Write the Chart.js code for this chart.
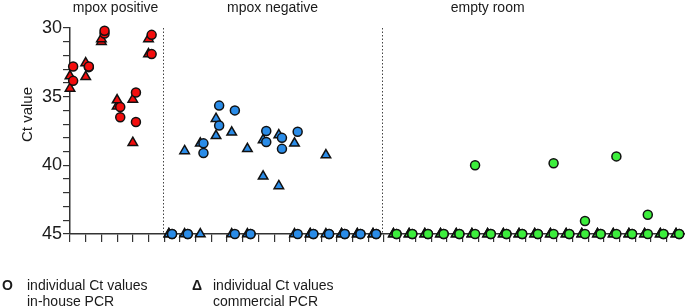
<!DOCTYPE html>
<html>
<head>
<meta charset="utf-8">
<script src="https://cdn.jsdelivr.net/npm/chart.js@4.4.1/dist/chart.umd.min.js"></script>
<style>
  body { margin: 0; background: #fff; }
  #wrap { position: relative; width: 685px; height: 308px; font-family: "Liberation Sans", Arial, sans-serif; color: #1a1a1a; }
  #myChart { display: block; }
  .key { position: absolute; top: 277px; font-size: 14px; line-height: 16px; white-space: nowrap; }
  .sym { position: absolute; top: 277px; font-size: 14px; line-height: 16px; font-weight: bold; }
</style>
</head>
<body>
<div id="wrap">
  <canvas id="myChart" width="685" height="308"></canvas>
  <span class="sym" style="left:2px">O</span>
  <div class="key" style="left:27px">individual Ct values<br>in-house PCR</div>
  <span class="sym" style="left:192px">Δ</span>
  <div class="key" style="left:213px">individual Ct values<br>commercial PCR</div>
</div>
<script>
const groups = ["mpox positive", "mpox negative", "empty room"];
const groupSizes = [6, 14, 19];
const groupColors = ["#f20d0d", "#2a8ce8", "#3cee3c"];

// two runs per sample, 45 = no signal
const inHouse1 = [
  32.8, 32.8, 30.2, 35.75, 34.7, 30.5,
  45, 45, 38.4, 35.65, 36.0, 45, 37.5, 38.0, 37.55, 45, 45, 45, 45, 45,
  45, 45, 45, 45, 45, 40.0, 45, 45, 45, 45, 39.85, 45, 44.05, 45, 39.35, 45, 43.6, 45, 45,
];
const inHouse2 = [
  33.85, 32.85, 30.4, 36.5, 36.85, 31.9,
  45, 45, 39.1, 37.1, 45, 45, 38.3, 38.8, 45, 45, 45, 45, 45, 45,
  45, 45, 45, 45, 45, 45, 45, 45, 45, 45, 45, 45, 45, 45, 45, 45, 45, 45, 45,
];
const commercial1 = [
  33.5, 32.55, 30.8, 35.25, 35.2, 30.8,
  45, 38.95, 38.4, 36.6, 37.6, 38.8, 38.15, 37.8, 38.4, 45, 39.25, 45, 45, 45,
  45, 45, 45, 45, 45, 45, 45, 45, 45, 45, 45, 45, 45, 45, 45, 45, 45, 45, 45,
];
const commercial2 = [
  34.4, 33.55, 31.0, 35.7, 38.35, 31.9,
  45, 45, 45, 37.85, 45, 45, 40.8, 41.5, 45, 45, 45, 45, 45, 45,
  45, 45, 45, 45, 45, 45, 45, 45, 45, 45, 45, 45, 45, 45, 45, 45, 45, 45, 45,
];
const yMin = 30;
const yMax = 45;

// layout helpers
const groupGap = 0.3;
const circleShift = 0.2;
const separators = [5.9, 19.9];
const titleAt = [2.9, 12.9, 26.6];

const xPos = [];
const colors = [];
groupSizes.forEach((n, g) => {
  for (let k = 0; k < n; k++) {
    xPos.push(xPos.length + g * groupGap);
    colors.push(groupColors[g]);
  }
});

const dots = (label, values, shape, shift, radius) => ({
  label,
  data: values.map((v, i) => ({ x: xPos[i] + shift, y: v })),
  pointStyle: shape,
  pointRadius: radius,
  pointHoverRadius: radius,
  pointBackgroundColor: colors,
  pointBorderColor: "#111",
  pointBorderWidth: 1.5,
  showLine: false,
  clip: false,
});

const decorations = {
  id: "decorations",
  beforeDatasetsDraw(chart) {
    const { ctx, chartArea, scales: { x, y } } = chart;
    ctx.save();
    ctx.strokeStyle = "#444";
    ctx.lineWidth = 1;
    ctx.setLineDash([1.5, 2]);
    separators.forEach((s) => {
      const px = Math.round(x.getPixelForValue(s)) + 0.5;
      ctx.beginPath();
      ctx.moveTo(px, chartArea.top);
      ctx.lineTo(px, chartArea.bottom);
      ctx.stroke();
    });
    ctx.setLineDash([]);
    ctx.fillStyle = "#1a1a1a";
    ctx.font = '14px "Liberation Sans", Arial, sans-serif';
    ctx.textAlign = "center";
    ctx.textBaseline = "middle";
    groups.forEach((g, i) => ctx.fillText(g, x.getPixelForValue(titleAt[i]), 8));
    ctx.font = '15px "Liberation Sans", Arial, sans-serif';
    ctx.translate(28, y.getPixelForValue(36.3));
    ctx.rotate(-Math.PI / 2);
    ctx.fillText("Ct value", 0, 0);
    ctx.restore();
  },
};

const ctx = document.getElementById("myChart");

new Chart(ctx, {
  type: "scatter",
  data: {
    datasets: [
      dots("in-house PCR", inHouse1, "circle", circleShift, 4.5),
      dots("in-house PCR", inHouse2, "circle", circleShift, 4.5),
      dots("commercial PCR", commercial1, "triangle", 0, 5.5),
      dots("commercial PCR", commercial2, "triangle", 0, 5.5),
    ],
  },
  options: {
    responsive: false,
    devicePixelRatio: 1,
    animation: false,
    layout: { autoPadding: false, padding: { top: 28, right: 0, bottom: 64, left: 0 } },
    plugins: {
      legend: { display: false },
      tooltip: { enabled: false },
    },
    scales: {
      x: {
        type: "linear",
        min: 0,
        max: 39.17,
        afterFit: (s) => {
          s.height = 10;
          s.paddingLeft = 0;
          s.paddingRight = 0;
        },
        afterBuildTicks: (s) => { s.ticks = xPos.map((_, i) => ({ value: i })); },
        ticks: { autoSkip: false, callback: () => "" },
        grid: { drawOnChartArea: false, tickLength: 8, color: "#333", lineWidth: 1.2 },
        border: { color: "#333", width: 1.5 },
      },
      y: {
        reverse: true,
        min: yMin,
        max: yMax,
        afterFit: (s) => { s.width = 70; },
        ticks: {
          stepSize: 1,
          autoSkip: false,
          padding: 1,
          color: "#1a1a1a",
          font: { size: 18, family: '"Liberation Sans", Arial, sans-serif' },
          callback: (v) => (v % 5 === 0 ? v : ""),
        },
        grid: { drawOnChartArea: false, tickLength: 7, color: "#333", lineWidth: 1.2 },
        border: { color: "#333", width: 1.5 },
      },
    },
  },
  plugins: [decorations],
});
</script>
</body>
</html>
